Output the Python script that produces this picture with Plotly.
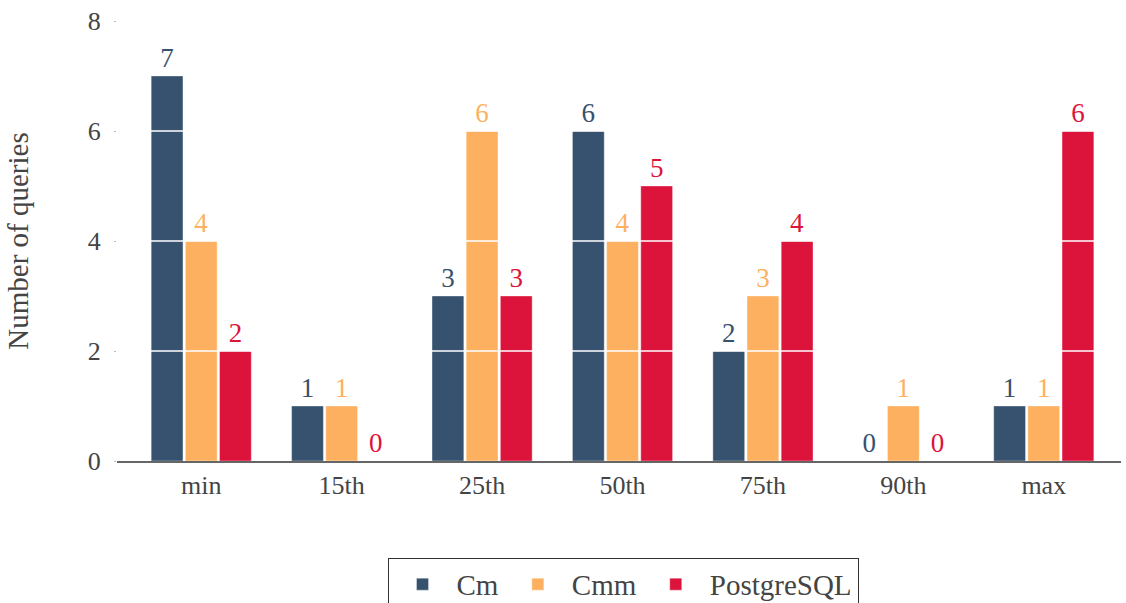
import plotly.graph_objects as go

percentiles = ["min", "15th", "25th", "50th", "75th", "90th", "max"]
cm_counts = [7, 1, 3, 6, 2, 0, 1]
cmm_counts = [4, 1, 6, 4, 3, 1, 1]
pg_counts = [2, 0, 3, 5, 4, 0, 6]
y_ticks = [0, 2, 4, 6, 8]

series = [
    ("Cm", cm_counts, "#36526e"),
    ("Cmm", cmm_counts, "#fdb160"),
    ("PostgreSQL", pg_counts, "#dc143c"),
]

FONT = "Liberation Serif"

fig = go.Figure()
for name, vals, color in series:
    fig.add_trace(go.Bar(
        name=name,
        x=percentiles,
        y=vals,
        text=[str(v) for v in vals],
        textposition="outside",
        textfont=dict(family=FONT, size=27, color=color),
        cliponaxis=False,
        marker=dict(color=color, line=dict(color="rgba(255,255,255,0.35)", width=1)),
    ))

# white grid lines drawn over the bars
for t in y_ticks[1:-1]:
    fig.add_shape(type="line", xref="paper", x0=0, x1=1, yref="y", y0=t, y1=t,
                  line=dict(color="white", width=1.5), layer="above")

fig.update_layout(
    width=1126, height=603,
    margin=dict(l=117, r=5, t=21, b=142, autoexpand=False),
    paper_bgcolor="white", plot_bgcolor="white",
    barmode="group", bargap=0.27, bargroupgap=0.07,
    font=dict(family=FONT, size=25, color="#444"),
    showlegend=True,
    legend=dict(
        orientation="h", x=0.504, xanchor="center", y=-0.22, yanchor="top",
        bordercolor="#333", borderwidth=1,
        font=dict(family=FONT, size=29, color="#444"),
        itemwidth=58, traceorder="normal", tracegroupgap=0,
    ),
    xaxis=dict(
        type="category", range=[-0.6, 6.55],
        showline=True, linecolor="#666", linewidth=1.5,
        showgrid=False, ticks="", tickfont=dict(size=26),
    ),
    yaxis=dict(
        range=[0, 8], tickvals=y_ticks, showgrid=False, zeroline=False,
        ticks="outside", ticklen=2, tickcolor="#bbb", ticklabelstandoff=8,
        tickfont=dict(size=26),
        title=dict(text="Number of queries", font=dict(size=29), standoff=50),
    ),
)

fig.write_html("out.html")
